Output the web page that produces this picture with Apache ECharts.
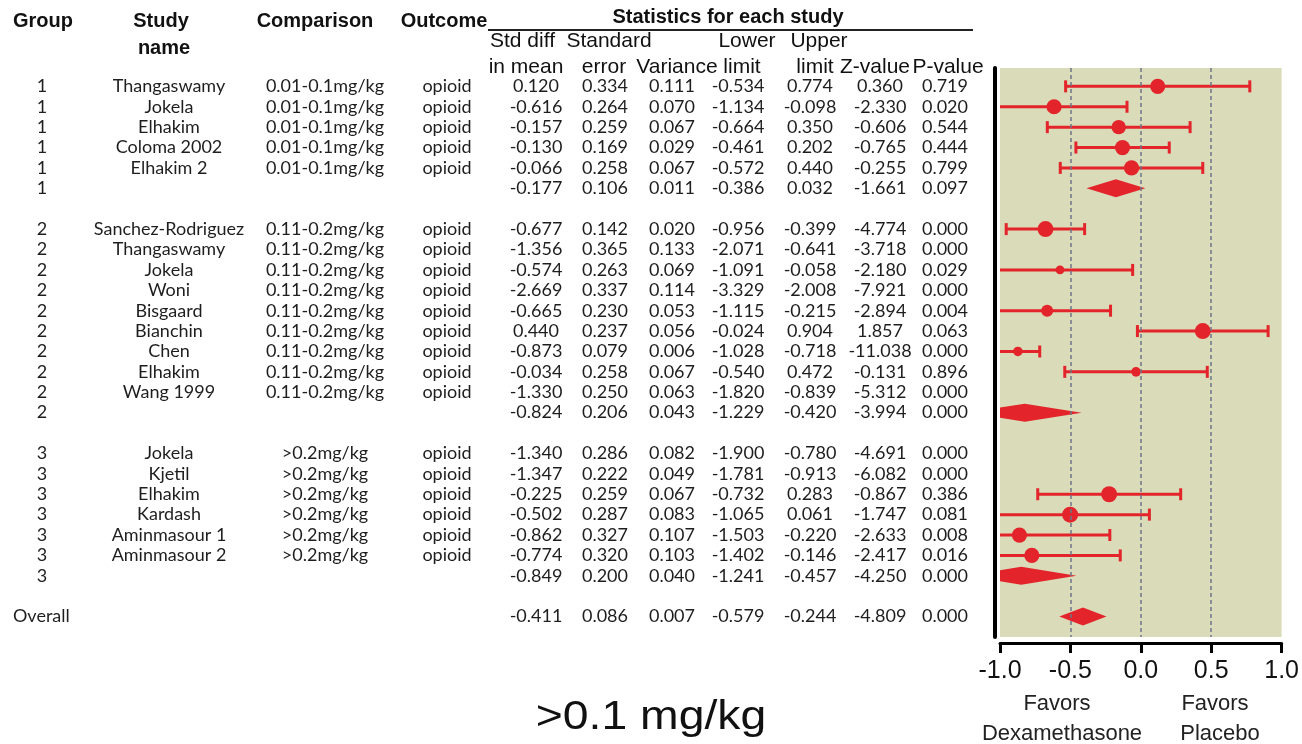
<!DOCTYPE html>
<html><head><meta charset="utf-8">
<script src="https://cdn.jsdelivr.net/npm/echarts@6/dist/echarts.min.js"></script>
<style>html,body{margin:0;padding:0;background:#fff}#c{width:1302px;height:744px}</style>
</head><body><div id="c"></div>
<script>
// ---------- DATA ----------
const groups = ['1','1','1','1','1','1',
  '2','2','2','2','2','2','2','2','2','2',
  '3','3','3','3','3','3','3',
  'Overall'];
const studies = ['Thangaswamy','Jokela','Elhakim','Coloma 2002','Elhakim 2','',
  'Sanchez-Rodriguez','Thangaswamy','Jokela','Woni','Bisgaard','Bianchin','Chen','Elhakim','Wang 1999','',
  'Jokela','Kjetil','Elhakim','Kardash','Aminmasour 1','Aminmasour 2','',
  ''];
const comparisons = ['0.01-0.1mg/kg','0.01-0.1mg/kg','0.01-0.1mg/kg','0.01-0.1mg/kg','0.01-0.1mg/kg','',
  '0.11-0.2mg/kg','0.11-0.2mg/kg','0.11-0.2mg/kg','0.11-0.2mg/kg','0.11-0.2mg/kg','0.11-0.2mg/kg','0.11-0.2mg/kg','0.11-0.2mg/kg','0.11-0.2mg/kg','',
  '>0.2mg/kg','>0.2mg/kg','>0.2mg/kg','>0.2mg/kg','>0.2mg/kg','>0.2mg/kg','',
  ''];
const outcomes = ['opioid','opioid','opioid','opioid','opioid','',
  'opioid','opioid','opioid','opioid','opioid','opioid','opioid','opioid','opioid','',
  'opioid','opioid','opioid','opioid','opioid','opioid','',
  ''];
const stdDiff = [0.120,-0.616,-0.157,-0.130,-0.066,-0.177,
  -0.677,-1.356,-0.574,-2.669,-0.665,0.440,-0.873,-0.034,-1.330,-0.824,
  -1.340,-1.347,-0.225,-0.502,-0.862,-0.774,-0.849,
  -0.411];
const stdErr = [0.334,0.264,0.259,0.169,0.258,0.106,
  0.142,0.365,0.263,0.337,0.230,0.237,0.079,0.258,0.250,0.206,
  0.286,0.222,0.259,0.287,0.327,0.320,0.200,
  0.086];
const variance = [0.111,0.070,0.067,0.029,0.067,0.011,
  0.020,0.133,0.069,0.114,0.053,0.056,0.006,0.067,0.063,0.043,
  0.082,0.049,0.067,0.083,0.107,0.103,0.040,
  0.007];
const lowerLimit = [-0.534,-1.134,-0.664,-0.461,-0.572,-0.386,
  -0.956,-2.071,-1.091,-3.329,-1.115,-0.024,-1.028,-0.540,-1.820,-1.229,
  -1.900,-1.781,-0.732,-1.065,-1.503,-1.402,-1.241,
  -0.579];
const upperLimit = [0.774,-0.098,0.350,0.202,0.440,0.032,
  -0.399,-0.641,-0.058,-2.008,-0.215,0.904,-0.718,0.472,-0.839,-0.420,
  -0.780,-0.913,0.283,0.061,-0.220,-0.146,-0.457,
  -0.244];
const zValue = [0.360,-2.330,-0.606,-0.765,-0.255,-1.661,
  -4.774,-3.718,-2.180,-7.921,-2.894,1.857,-11.038,-0.131,-5.312,-3.994,
  -4.691,-6.082,-0.867,-1.747,-2.633,-2.417,-4.250,
  -4.809];
const pValue = [0.719,0.020,0.544,0.444,0.799,0.097,
  0.000,0.000,0.029,0.000,0.004,0.063,0.000,0.896,0.000,0.000,
  0.000,0.000,0.386,0.081,0.008,0.016,0.000,
  0.000];
// relative weight of each study
const relWeight = [0.95,0.95,0.9,0.95,0.95,null,
  1.0,0.9,0.55,0.9,0.75,1.0,0.6,0.6,0.9,null,
  0.95,1.0,1.0,1.0,0.95,0.95,null,
  null];
const xTickLabels = ['-1.0','-0.5','0.0','0.5','1.0'];
const refLines = [-0.5, 0, 0.5];

// ---------- LAYOUT / STYLE ----------
const RED = '#e3242b';
const X_MIN = -1, X_MAX = 1;
const TXT = '#1e1e1e';
const TABLE_FONT = 'Lato';
const HEAD_FONT = 'Liberation Sans';

// row slots: blank row between groups
const slots = [];
{ let s = 0; for (let i = 0; i < groups.length; i++) { if (i > 0 && groups[i] !== groups[i-1]) s++; slots.push(s); s++; } }
const kind = groups.map((g, i) => g === 'Overall' ? 'overall' : (studies[i] === '' ? 'summary' : 'study'));

const studyData = [], diamondData = [], tableData = [];
for (let i = 0; i < groups.length; i++) {
  tableData.push([slots[i], i]);
  if (kind[i] === 'study') studyData.push([slots[i], stdDiff[i], lowerLimit[i], upperLimit[i], relWeight[i]]);
  else diamondData.push([slots[i], stdDiff[i], lowerLimit[i], upperLimit[i]]);
}

const statCols = [536, 605, 672, 738, 810, 880, 945];
const fmt = v => v.toFixed(3);

function txt(x, y, s, align, font, size, weight, color) {
  return { type: 'text', x, y, style: { text: s, align: align || 'center', verticalAlign: 'middle',
    font: (weight || 'normal') + ' ' + (size || 18) + 'px "' + (font || TABLE_FONT) + '"', fill: color || TXT } };
}

function renderTable(params, api) {
  const slot = api.value(0), i = api.value(1);
  const y = api.coord([0, slot])[1];
  const ch = [];
  if (kind[i] === 'overall') ch.push(txt(13, y, groups[i], 'left'));
  else ch.push(txt(42, y, groups[i]));
  if (studies[i]) ch.push(txt(169, y, studies[i]));
  if (comparisons[i]) ch.push(txt(325, y, comparisons[i]));
  if (outcomes[i]) ch.push(txt(447, y, outcomes[i]));
  const vals = [stdDiff[i], stdErr[i], variance[i], lowerLimit[i], upperLimit[i], zValue[i], pValue[i]];
  vals.forEach((v, k) => ch.push(txt(statCols[k], y, fmt(v))));
  return { type: 'group', children: ch };
}

function renderStudy(params, api) {
  const row = api.value(0), est = api.value(1), lo = api.value(2), hi = api.value(3), w = api.value(4);
  if (est < X_MIN || est > X_MAX) return null;
  const c = api.coord([est, row]);
  const pl = api.coord([lo, row]);
  const ph = api.coord([hi, row]);
  const cap = 6;
  const ch = [{ type: 'line', shape: { x1: pl[0], y1: c[1], x2: ph[0], y2: c[1] }, style: { stroke: RED, lineWidth: 3 } }];
  if (lo >= X_MIN) ch.push({ type: 'line', shape: { x1: pl[0], y1: c[1] - cap, x2: pl[0], y2: c[1] + cap }, style: { stroke: RED, lineWidth: 3 } });
  if (hi <= X_MAX) ch.push({ type: 'line', shape: { x1: ph[0], y1: c[1] - cap, x2: ph[0], y2: c[1] + cap }, style: { stroke: RED, lineWidth: 3 } });
  ch.push({ type: 'circle', shape: { cx: c[0], cy: c[1], r: 8 * w }, style: { fill: RED } });
  return { type: 'group', children: ch };
}

function renderDiamond(params, api) {
  const row = api.value(0), est = api.value(1), lo = api.value(2), hi = api.value(3);
  const c = api.coord([est, row]);
  const pl = api.coord([lo, row]);
  const ph = api.coord([hi, row]);
  const h = 9;
  return { type: 'polygon', shape: { points: [[pl[0], c[1]], [c[0], c[1] - h], [ph[0], c[1]], [c[0], c[1] + h]] },
    style: { fill: RED } };
}

const headers = [
  txt(13, 21, 'Group', 'left', HEAD_FONT, 20, 'bold', '#111'),
  txt(161, 21, 'Study', 'center', HEAD_FONT, 20, 'bold', '#111'),
  txt(164, 48, 'name', 'center', HEAD_FONT, 20, 'bold', '#111'),
  txt(315, 21, 'Comparison', 'center', HEAD_FONT, 20, 'bold', '#111'),
  txt(444, 21, 'Outcome', 'center', HEAD_FONT, 20, 'bold', '#111'),
  txt(728, 17, 'Statistics for each study', 'center', HEAD_FONT, 20, 'bold', '#111'),
  txt(490, 41, 'Std diff', 'left', HEAD_FONT, 21, 'normal', '#111'),
  txt(609, 41, 'Standard', 'center', HEAD_FONT, 21, 'normal', '#111'),
  txt(747, 41, 'Lower', 'center', HEAD_FONT, 21, 'normal', '#111'),
  txt(819, 41, 'Upper', 'center', HEAD_FONT, 21, 'normal', '#111'),
  txt(526, 67, 'in mean', 'center', HEAD_FONT, 21, 'normal', '#111'),
  txt(604, 67, 'error', 'center', HEAD_FONT, 21, 'normal', '#111'),
  txt(677, 67, 'Variance', 'center', HEAD_FONT, 21, 'normal', '#111'),
  txt(742, 67, 'limit', 'center', HEAD_FONT, 21, 'normal', '#111'),
  txt(815, 67, 'limit', 'center', HEAD_FONT, 21, 'normal', '#111'),
  txt(875, 67, 'Z-value', 'center', HEAD_FONT, 21, 'normal', '#111'),
  txt(948, 67, 'P-value', 'center', HEAD_FONT, 21, 'normal', '#111'),
  { type: 'line', shape: { x1: 488, y1: 30, x2: 973, y2: 30 }, style: { stroke: '#222', lineWidth: 2 } },
  txt(1057, 704, 'Favors', 'center', HEAD_FONT, 22, 'normal', '#222'),
  txt(1062, 734, 'Dexamethasone', 'center', HEAD_FONT, 22, 'normal', '#222'),
  txt(1215, 704, 'Favors', 'center', HEAD_FONT, 22, 'normal', '#222'),
  txt(1220, 734, 'Placebo', 'center', HEAD_FONT, 22, 'normal', '#222'),
  Object.assign(txt(651, 718, '>0.1 mg/kg', 'center', HEAD_FONT, 41, 'normal', '#111'), { scaleX: 1.13 })
];

const chart = echarts.init(document.getElementById('c'));
chart.setOption({
  animation: false,
  backgroundColor: '#fff',
  grid: { left: 1000, right: 19, top: 68, bottom: 107, show: true, backgroundColor: '#d9dbb9', borderWidth: 0 },
  xAxis: {
    type: 'value', min: X_MIN, max: X_MAX, interval: 0.5, offset: 6,
    axisLine: { show: true, onZero: false, lineStyle: { color: '#000', width: 3 } },
    axisTick: { show: true, length: 10, lineStyle: { color: '#000', width: 3 } },
    axisLabel: { fontSize: 25, fontFamily: HEAD_FONT, color: '#111', margin: 16,
      formatter: (v) => xTickLabels[Math.round((v - X_MIN) / 0.5)] },
    splitLine: { show: false }
  },
  yAxis: {
    type: 'value', inverse: true, min: -0.9, max: 27, offset: 5,
    axisLine: { show: true, onZero: false, lineStyle: { color: '#000', width: 4 } },
    axisTick: { show: false }, axisLabel: { show: false }, splitLine: { show: false }
  },
  graphic: headers,
  series: [
    { type: 'scatter', data: [], silent: true, z: 1,
      markLine: { silent: true, symbol: 'none', label: { show: false },
        lineStyle: { color: '#6d7588', width: 1.5, type: [4, 3] },
        data: refLines.map(v => ({ xAxis: v })) } },
    { type: 'custom', name: 'table', data: tableData, renderItem: renderTable, clip: false, silent: true,
      encode: { x: -1, y: 0 } },
    { type: 'custom', name: 'studies', data: studyData, renderItem: renderStudy, clip: true, z: 3,
      encode: { x: [1, 2, 3], y: 0 } },
    { type: 'custom', name: 'summary', data: diamondData, renderItem: renderDiamond, clip: true, z: 3,
      encode: { x: [1, 2, 3], y: 0 } }
  ]
});
</script></body></html>
